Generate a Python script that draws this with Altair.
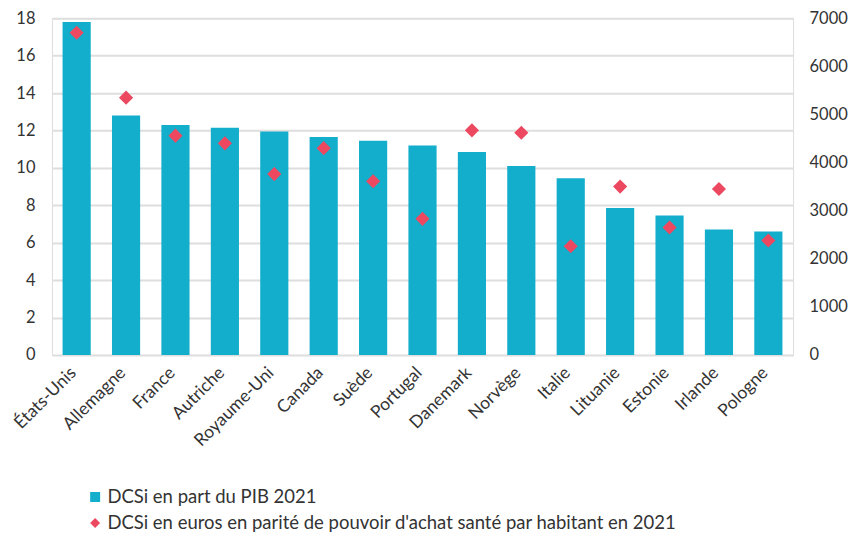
import altair as alt
import pandas as pd

countries = ["États-Unis", "Allemagne", "France", "Autriche", "Royaume-Uni", "Canada", "Suède",
             "Portugal", "Danemark", "Norvège", "Italie", "Lituanie", "Estonie", "Irlande", "Pologne"]
pib = [17.8, 12.8, 12.3, 12.15, 11.95, 11.65, 11.45, 11.2, 10.85, 10.1, 9.45, 7.85, 7.45, 6.7, 6.6]
euros = [6700, 5350, 4560, 4400, 3760, 4300, 3610, 2830, 4670, 4620, 2260, 3500, 2650, 3450, 2380]
series = ["DCSi en part du PIB 2021",
          "DCSi en euros en parité de pouvoir d'achat santé par habitant en 2021"]
left_ticks = list(range(0, 19, 2))
right_ticks = list(range(0, 7001, 1000))

df = pd.DataFrame({"pays": countries, "pib": pib, "euros": euros,
                   "s1": series[0], "s2": series[1]})

FONT = "Lato"
TXT = "#333333"

x = alt.X("pays:N", sort=countries, title=None,
          scale=alt.Scale(paddingInner=0.43, paddingOuter=0.215),
          axis=alt.Axis(labelAngle=-45, labelFontSize=17.5, labelColor=TXT, labelFont=FONT,
                        domain=False, ticks=False, tickSize=0, labelPadding=15, labelOffset=-3,
                        labelAlign="right", labelBaseline="middle"))

color = alt.Color("serie:N", scale=alt.Scale(domain=series, range=["#13AECB", "#EC4960"]),
                  title=None,
                  legend=alt.Legend(orient="none", legendX=34, legendY=470, direction="vertical",
                                    labelFontSize=18.5, labelFont=FONT, labelColor=TXT,
                                    labelLimit=800, symbolSize=100, rowPadding=7,
                                    labelOffset=3, symbolStrokeWidth=0))

bars = alt.Chart(df).transform_calculate(serie="datum.s1").mark_bar(color="#13AECB").encode(
    x=x,
    y=alt.Y("pib:Q", title=None,
            scale=alt.Scale(domain=[0, 18], nice=False),
            axis=alt.Axis(values=left_ticks, grid=True, gridColor="#DEDEDE", gridWidth=2,
                          domain=False, ticks=False, tickSize=0, labelPadding=17,
                          labelFontSize=16.5, labelColor=TXT, labelFont=FONT)),
    color=color,
)

points = alt.Chart(df).transform_calculate(serie="datum.s2").mark_point(
    filled=True, size=200, opacity=1).encode(
    x=x,
    y=alt.Y("euros:Q", title=None,
            scale=alt.Scale(domain=[0, 7000], nice=False),
            axis=alt.Axis(orient="right", values=right_ticks, format="d", grid=False,
                          domain=False, ticks=False, tickSize=0, labelPadding=16,
                          labelFontSize=16.5, labelColor=TXT, labelFont=FONT)),
    color=color,
    shape=alt.Shape("serie:N", scale=alt.Scale(domain=series, range=["square", "diamond"]),
                    title=None),
)

chart = alt.layer(bars, points).resolve_scale(y="independent").properties(
    width=742, height=337,
    padding={"left": 2, "top": 2, "right": 0, "bottom": 0},
).configure_view(stroke=None).configure(font=FONT)

chart.save("out.html", embed_options={"renderer": "svg", "actions": False})
